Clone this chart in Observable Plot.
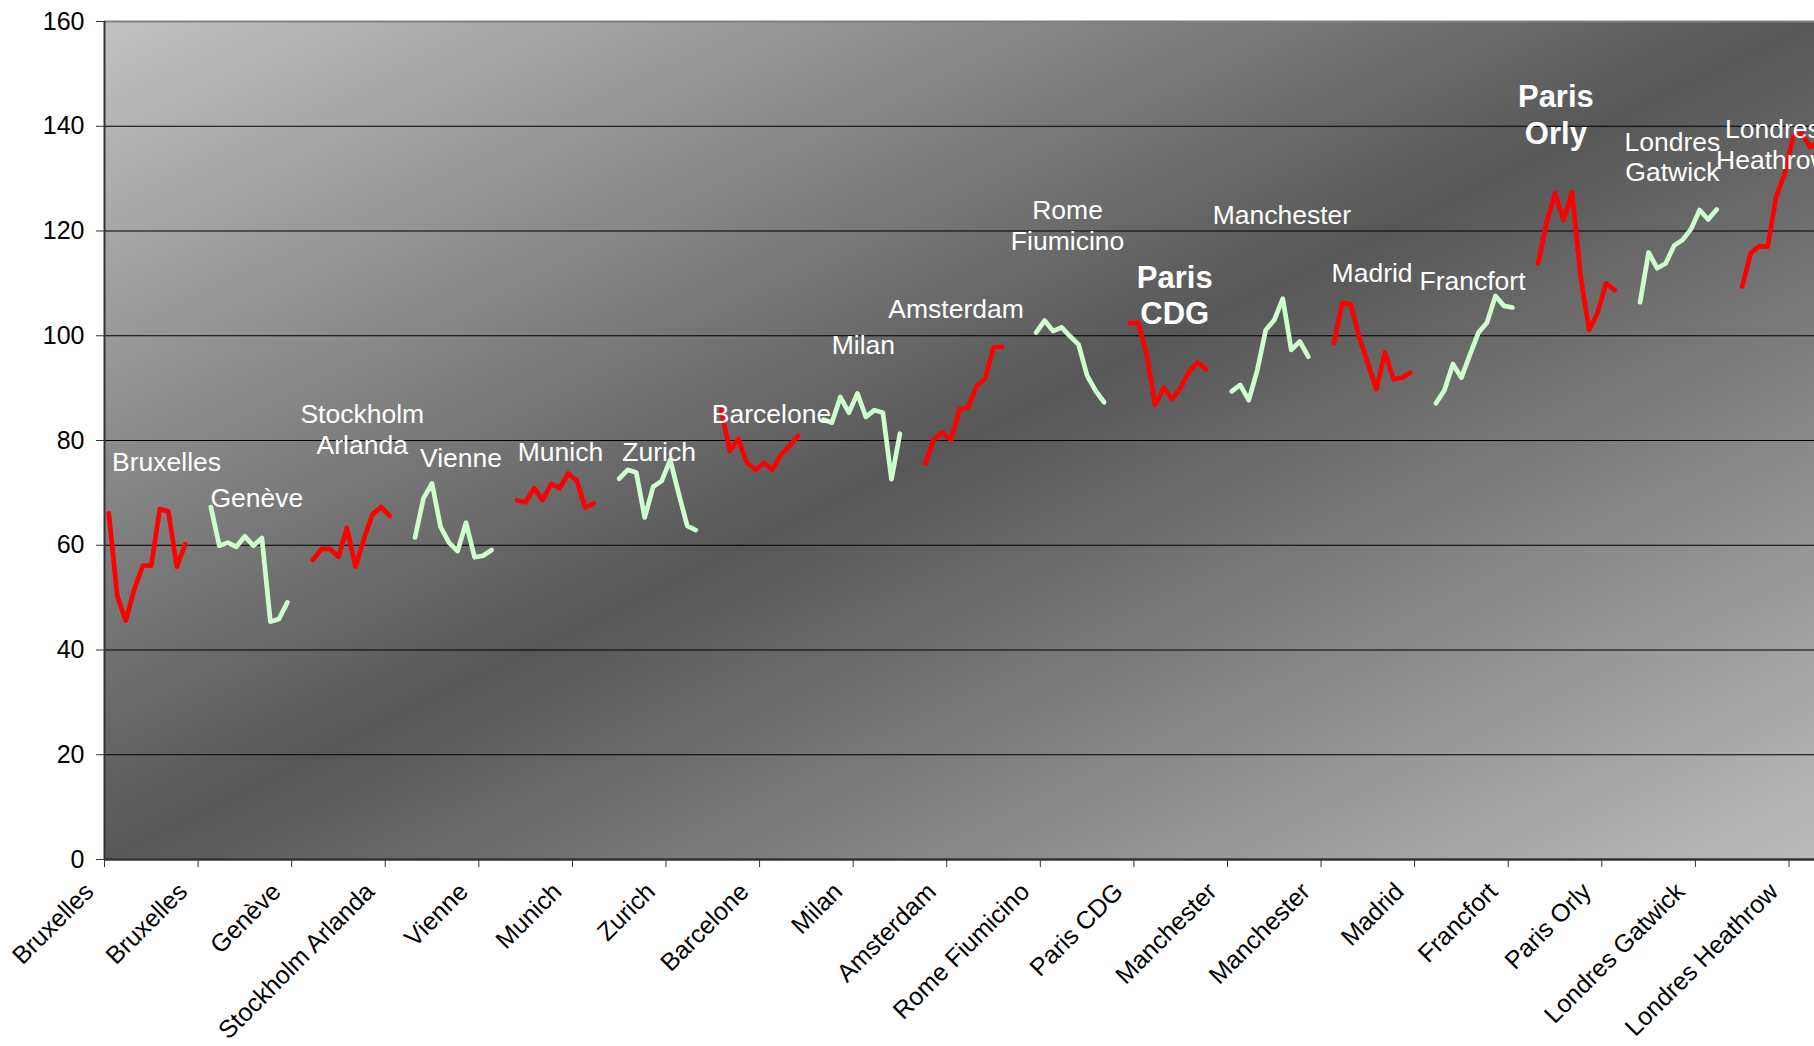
<!DOCTYPE html>
<html>
<head>
<meta charset="utf-8">
<script src="https://cdn.jsdelivr.net/npm/d3@7"></script>
<script src="https://cdn.jsdelivr.net/npm/@observablehq/plot@0.6"></script>
<style>
  html, body { margin: 0; padding: 0; background: #ffffff; overflow: hidden; }
  #chart svg { display: block; overflow: hidden; }
</style>
</head>
<body>
<div id="chart"></div>
<script>
// Airports, in the order their blocks appear along the x axis
const airports = [
  "Bruxelles", "Genève", "Stockholm Arlanda", "Vienne", "Munich", "Zurich",
  "Barcelone", "Milan", "Amsterdam", "Rome Fiumicino", "Paris CDG", "Manchester",
  "Madrid", "Francfort", "Paris Orly", "Londres Gatwick", "Londres Heathrow"
];

// Ten successive readings per airport (null = missing reading)
const series = [
  [66.1, 50.3, 45.6, 51.6, 56.1, 56.1, 66.9, 66.5, 55.9, 60.2],
  [67.3, 59.9, 60.5, 59.7, 61.7, 59.9, 61.4, 45.4, 45.9, 49.1],
  [57.2, 59.3, 59.3, 57.8, 63.3, 55.9, 61.2, 65.9, 67.3, 65.6],
  [61.5, 69.0, 71.8, 63.5, 60.5, 58.9, 64.3, 57.7, 58.0, 59.1],
  [68.6, 68.2, 70.9, 68.6, 71.7, 70.9, 73.7, 72.4, 67.2, 68.0],
  [72.7, 74.4, 73.9, 65.3, 71.2, 72.3, 76.3, 69.8, 63.7, 62.9],
  [85.8, 78.0, 80.3, 75.8, 74.4, 75.7, 74.4, 77.3, 78.9, 80.9],
  [84.0, 83.4, 88.3, 85.3, 89.0, 84.5, 85.8, 85.3, 72.6, 81.3],
  [75.6, 80.3, 81.5, 80.1, 86.0, 86.3, 90.4, 91.7, 97.8, 97.9],
  [null, 100.6, 102.9, 100.9, 101.6, 99.9, 98.3, 92.4, 89.5, 87.3],
  [102.4, 102.5, 96.5, 86.8, 90.1, 87.9, 90.1, 93.2, 94.9, 93.6],
  [89.4, 90.6, 87.7, 93.4, 101.1, 103.0, 107.1, 97.3, 98.9, 96.0],
  [98.6, 106.3, 106.0, 99.7, 94.7, 89.8, 96.8, 91.7, 92.0, 93.0],
  [87.1, 89.6, 94.6, 92.0, 96.4, 100.6, 102.5, 107.6, 105.7, 105.4],
  [113.8, 121.6, 127.2, 122.1, 127.4, 111.4, 101.1, 104.4, 110.0, 108.7],
  [106.4, 115.9, 112.9, 113.8, 117.2, 118.3, 120.4, 124.0, 122.2, 124.1],
  [109.4, 115.8, 117.1, 117.0, 126.6, 130.9, 138.0, 138.6, 136.0, 137.0]
];

// Category labels shown every eleventh row
const tickLabels = [
  "Bruxelles", "Bruxelles", "Genève", "Stockholm Arlanda", "Vienne", "Munich",
  "Zurich", "Barcelone", "Milan", "Amsterdam", "Rome Fiumicino", "Paris CDG",
  "Manchester", "Manchester", "Madrid", "Francfort", "Paris Orly",
  "Londres Gatwick", "Londres Heathrow"
];
const yTicks = [0, 20, 40, 60, 80, 100, 120, 140, 160];

// Name annotations written above each block
const noteText = [
  "Bruxelles", "Genève", "Stockholm\nArlanda", "Vienne", "Munich", "Zurich",
  "Barcelone", "Milan", "Amsterdam", "Rome\nFiumicino", "Paris\nCDG", "Manchester",
  "Madrid", "Francfort", "Paris\nOrly", "Londres\nGatwick", "Londres\nHeathrow"
];
const noteRow = [7.3, 17.9, 30.3, 41.9, 53.6, 65.2, 78.4, 89.2, 100.1, 113.2, 125.8, 138.4, 149.0, 160.8, 170.6, 184.3, 196.1];
const noteValue = [74.1, 67.3, 77.5, 75.0, 76.0, 76.0, 83.4, 96.6, 103.3, 116.4, 102.2, 121.3, 110.2, 108.7, 136.7, 129.5, 131.8];
const noteBold = [false, false, false, false, false, false, false, false, false, false, true, false, false, false, true, false, false];

// Layout of the category axis
const rowsPerBlock = 12;   // ten readings plus two empty rows
const labelEvery = 11;
const visibleRows = 201;

const RED = "#ff0000";
const GREEN = "#ccffcc";

const rows = series.flatMap((vals, s) =>
  vals.map((v, k) => ({
    x: s * rowsPerBlock + k + 0.5,
    y: v,
    airport: airports[s],
    block: s
  }))
);
const notes = noteText.map((t, i) => ({text: t, x: noteRow[i], y: noteValue[i], bold: noteBold[i]}));
const xTicks = tickLabels.map((_, i) => i * labelEvery);

const font = "'Liberation Sans', Arial, Helvetica, sans-serif";

const chart = Plot.plot({
  width: 1814,
  height: 1046,
  marginLeft: 104,
  marginTop: 21,
  marginBottom: 187,
  marginRight: 0,
  style: {fontFamily: font, background: "#ffffff", color: "#000000"},
  x: {type: "linear", domain: [0, visibleRows]},
  y: {domain: [0, 160]},
  marks: [
    Plot.frame({fill: "url(#plotShade)", stroke: "none"}),
    Plot.ruleY(yTicks.filter(d => d > 0 && d < 160), {stroke: "#000000", strokeWidth: 1.2}),
    Plot.ruleY([160], {stroke: "#808080", strokeWidth: 2}),
    Plot.line(rows.filter(d => d.block % 2 === 0), {
      x: "x", y: "y", z: "airport", stroke: RED, strokeWidth: 4.7,
      strokeLinejoin: "round", strokeLinecap: "round", clip: true
    }),
    Plot.line(rows.filter(d => d.block % 2 === 1), {
      x: "x", y: "y", z: "airport", stroke: GREEN, strokeWidth: 4.7,
      strokeLinejoin: "round", strokeLinecap: "round", clip: true
    }),
    Plot.text(notes.filter(d => !d.bold), {
      x: "x", y: "y", text: "text", fill: "#ffffff", fontSize: 26.5,
      lineAnchor: "bottom", lineHeight: 1.16, textAnchor: "middle"
    }),
    Plot.text(notes.filter(d => d.bold), {
      x: "x", y: "y", text: "text", fill: "#ffffff", fontSize: 31, fontWeight: "bold",
      lineAnchor: "bottom", lineHeight: 1.18, textAnchor: "middle"
    }),
    Plot.axisY({
      ticks: yTicks, tickSize: 8, tickPadding: 12, fontSize: 25,
      stroke: "#333333", label: null
    }),
    // tick marks of the category axis
    Plot.axisX({
      ticks: xTicks, tickFormat: () => "", tickSize: 8,
      stroke: "#333333", label: null
    }),
    // rotated category names
    Plot.axisX({
      ticks: xTicks,
      tickFormat: d => tickLabels[Math.round(d / labelEvery)],
      tickRotate: -45, tickSize: 0, tickPadding: 14, fontSize: 25,
      dx: -15, dy: 14, label: null
    }),
    Plot.ruleX([0], {stroke: "#333333", strokeWidth: 2}),
    Plot.ruleY([0], {stroke: "#333333", strokeWidth: 2.5})
  ]
});

// Diagonal shading of the plot area: light corners, dark band along the other diagonal
const defs = d3.select(chart).insert("defs", ":first-child");
const grad = defs.append("linearGradient")
  .attr("id", "plotShade")
  .attr("x1", 0).attr("y1", 0).attr("x2", 1).attr("y2", 1);
grad.append("stop").attr("offset", "0%").attr("stop-color", "#c2c2c2");
grad.append("stop").attr("offset", "50%").attr("stop-color", "#575757");
grad.append("stop").attr("offset", "100%").attr("stop-color", "#bcbcbc");

document.getElementById("chart").appendChild(chart);
</script>
</body>
</html>
